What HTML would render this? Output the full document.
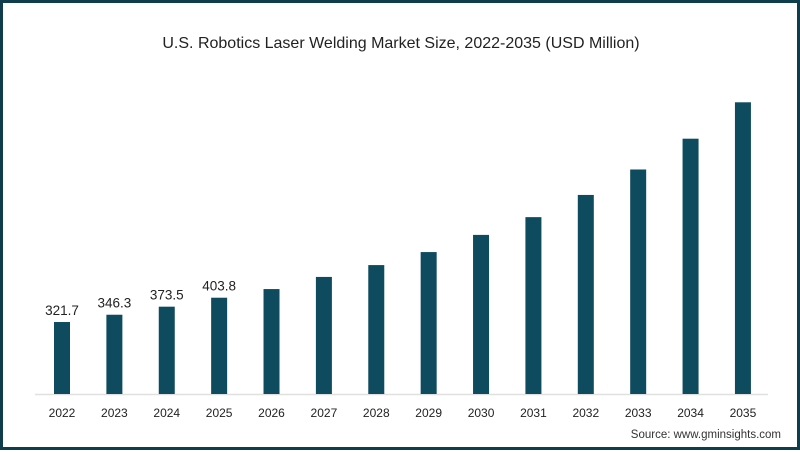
<!DOCTYPE html>
<html><head><meta charset="utf-8"><style>
body{margin:0;background:#fff;font-family:"Liberation Sans",sans-serif}
#wrap{position:relative;width:800px;height:450px;box-sizing:border-box;border:3px solid #0f3d4c;background:#fff}
</style></head><body>
<div id="wrap">
<svg id="chart" width="794" height="444" viewBox="3 3 794 444">
<text x="401" y="48" text-anchor="middle" font-size="16" fill="#222">U.S. Robotics Laser Welding Market Size, 2022-2035 (USD Million)</text>
<line x1="35" y1="394.5" x2="768" y2="394.5" stroke="#e0e0e0" stroke-width="1.5"/>
<g id="bars"></g>
<text x="781" y="438" text-anchor="end" font-size="11.5" fill="#333">Source: www.gminsights.com</text>
</svg>
</div>
<script>
const categories=["2022","2023","2024","2025","2026","2027","2028","2029","2030","2031","2032","2033","2034","2035"];
const values=[321.7,346.3,373.5,403.8,433,474,514,558,616,676,751,837,941,1064];
const valueLabels=["321.7","346.3","373.5","403.8","","","","","","","","","",""];
const yMin=78.5, baseY=394, pxPerUnit=0.296;
const x0=62, step=52.38, bw=16;
function xScale(i){return x0+i*step;}
function yScale(v){return baseY-(v-yMin)*pxPerUnit;}
const g=document.getElementById('bars');
const NS="http://www.w3.org/2000/svg";
categories.forEach((c,i)=>{
  const y=yScale(values[i]);
  const r=document.createElementNS(NS,'rect');
  r.setAttribute('x',xScale(i)-bw/2);r.setAttribute('y',y);
  r.setAttribute('width',bw);r.setAttribute('height',baseY-y);
  r.setAttribute('fill','#0e4b5e');
  
  
  g.appendChild(r);
  const t=document.createElementNS(NS,'text');
  t.setAttribute('x',xScale(i));t.setAttribute('y',417);
  t.setAttribute('text-anchor','middle');t.setAttribute('font-size','12');t.setAttribute('fill','#222');
  t.textContent=c;
  
  
  g.appendChild(t);
  if(valueLabels[i]){
    const l=document.createElementNS(NS,'text');
    l.setAttribute('x',xScale(i));l.setAttribute('y',y-7);
    l.setAttribute('text-anchor','middle');l.setAttribute('font-size','13.5');l.setAttribute('fill','#222');
    l.textContent=valueLabels[i];
    
    
    g.appendChild(l);
  }
});
</script>
</body></html>
